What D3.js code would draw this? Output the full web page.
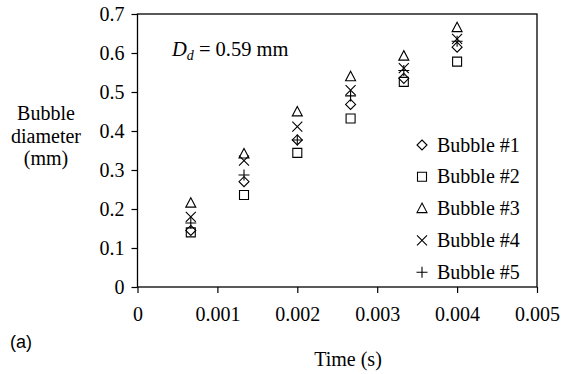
<!DOCTYPE html>
<html>
<head>
<meta charset="utf-8">
<script src="https://cdn.jsdelivr.net/npm/d3@7"></script>
<style>
  body { margin: 0; background: #fff; }
  svg text { font-family: 'Liberation Serif', 'Times New Roman', Times, serif; fill: #000; }
</style>
</head>
<body>
<div id="chart"></div>
<script>
// frame times (s)
const times = [0.000667, 0.001333, 0.002, 0.002667, 0.003333, 0.004];

// bubble diameters (mm)
const bubble1 = [0.145, 0.270, 0.377, 0.468, 0.535, 0.615];
const bubble2 = [0.140, 0.236, 0.344, 0.432, 0.526, 0.578];
const bubble3 = [0.215, 0.341, 0.449, 0.539, 0.592, 0.665];
const bubble4 = [0.180, 0.324, 0.411, 0.505, 0.561, 0.636];
const bubble5 = [0.164, 0.287, 0.377, 0.490, 0.555, 0.630];

const seriesNames = ['Bubble #1', 'Bubble #2', 'Bubble #3', 'Bubble #4', 'Bubble #5'];
const seriesShapes = ['diamond', 'square', 'triangle', 'cross', 'plus'];
const seriesValues = [bubble1, bubble2, bubble3, bubble4, bubble5];

const xTicks = [0, 0.001, 0.002, 0.003, 0.004, 0.005];
const yTicks = [0, 0.1, 0.2, 0.3, 0.4, 0.5, 0.6, 0.7];

const serif = "'Liberation Serif', 'Times New Roman', Times, serif";

const width = 576;
const height = 374;
const margin = { top: 14, right: 39, bottom: 87, left: 137.5 };

const x = d3.scaleLinear()
    .domain([0, 0.005])
    .range([margin.left, width - margin.right]);

const y = d3.scaleLinear()
    .domain([0, 0.7])
    .range([height - margin.bottom, margin.top]);

const svg = d3.select('#chart')
    .append('svg')
    .attr('width', width)
    .attr('height', height);

// marker path for a shape, centred at 0,0
function markerPath(shape) {
    const p = d3.path();
    if (shape === 'diamond') {
        p.moveTo(0, -5); p.lineTo(5, 0); p.lineTo(0, 5); p.lineTo(-5, 0); p.closePath();
    } else if (shape === 'square') {
        p.rect(-4.5, -4.5, 9, 9);
    } else if (shape === 'triangle') {
        p.moveTo(0, -5.5); p.lineTo(5, 4); p.lineTo(-5, 4); p.closePath();
    } else if (shape === 'cross') {
        p.moveTo(-5, -5); p.lineTo(5, 5); p.moveTo(5, -5); p.lineTo(-5, 5);
    } else {
        p.moveTo(-5.5, 0); p.lineTo(5.5, 0); p.moveTo(0, -5.5); p.lineTo(0, 5.5);
    }
    return p.toString();
}

// frame
svg.append('rect')
    .attr('x', margin.left)
    .attr('y', margin.top)
    .attr('width', width - margin.right - margin.left)
    .attr('height', height - margin.bottom - margin.top)
    .attr('fill', 'none')
    .attr('stroke', '#000')
    .attr('stroke-width', 1.3);

// y axis
const yAxis = svg.append('g')
    .attr('transform', `translate(${margin.left},0)`)
    .call(d3.axisLeft(y).tickValues(yTicks).tickSize(6).tickPadding(7)
        .tickFormat(d => d === 0 ? '0' : d3.format('.1f')(d)));
yAxis.attr('font-family', null).attr('font-size', null);
yAxis.select('.domain').remove();
yAxis.selectAll('line').attr('stroke-width', 1.2);
yAxis.selectAll('text').style('font-size', '20px').style('font-family', serif);

// x axis
const xAxis = svg.append('g')
    .attr('transform', `translate(0,${height - margin.bottom})`)
    .call(d3.axisBottom(x).tickValues(xTicks).tickSize(6).tickPadding(14)
        .tickFormat(d => d === 0 ? '0' : d3.format('.3f')(d)));
xAxis.attr('font-family', null).attr('font-size', null);
xAxis.select('.domain').remove();
xAxis.selectAll('line').attr('stroke-width', 1.2);
xAxis.selectAll('text').style('font-size', '20px').style('font-family', serif);

// data markers
seriesValues.forEach((vals, i) => {
    svg.append('g')
        .selectAll('path')
        .data(vals)
        .enter()
        .append('path')
        .attr('transform', (d, j) => `translate(${x(times[j])},${y(d)})`)
        .attr('d', markerPath(seriesShapes[i]))
        .attr('fill', 'none')
        .attr('stroke', '#000')
        .attr('stroke-width', 1.1);
});

// legend
const legend = svg.append('g')
    .selectAll('g')
    .data(seriesNames)
    .enter()
    .append('g')
    .attr('transform', (d, i) => `translate(422,${145 + i * 31.8})`);
legend.append('path')
    .attr('d', (d, i) => markerPath(seriesShapes[i]))
    .attr('fill', 'none')
    .attr('stroke', '#000')
    .attr('stroke-width', 1.1);
legend.append('text')
    .attr('x', 15)
    .attr('y', 6.5)
    .style('font-size', '20px')
    .style('font-family', serif)
    .text(d => d);

// annotation
const ann = svg.append('text')
    .attr('x', 172)
    .attr('y', 56)
    .style('font-size', '20.5px')
    .style('font-family', serif);
ann.append('tspan').style('font-style', 'italic').text('D');
ann.append('tspan').style('font-style', 'italic').style('font-size', '14px').attr('dy', 4).text('d');
ann.append('tspan').attr('dy', -4).text(' = 0.59 mm');

// axis titles
svg.append('text')
    .attr('x', 348)
    .attr('y', 366)
    .attr('text-anchor', 'middle')
    .style('font-size', '20px')
    .style('font-family', serif)
    .text('Time (s)');

const yTitle = svg.append('text')
    .attr('text-anchor', 'middle')
    .style('font-size', '20px')
    .style('font-family', serif);
['Bubble', 'diameter', '(mm)'].forEach((t, i) => {
    yTitle.append('tspan').attr('x', 46).attr('y', 120 + i * 22.5).text(t);
});

svg.append('text')
    .attr('x', 10)
    .attr('y', 348)
    .style('font-size', '18px')
    .style('font-family', "'Liberation Sans', Arial, sans-serif")
    .text('(a)');
</script>
</body>
</html>
